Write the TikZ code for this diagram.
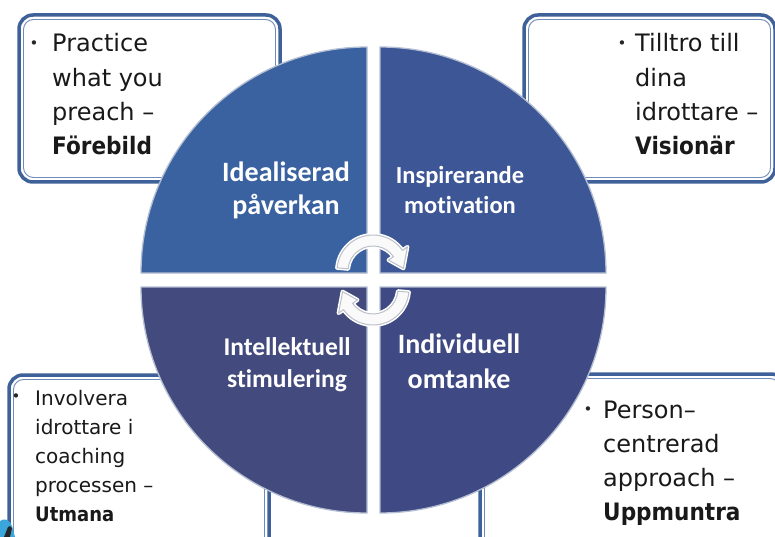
\documentclass[tikz,border=0pt]{standalone}
\usepackage{fontspec}
\setmainfont{DejaVu Sans}
\newfontfamily\labelfont[Ligatures={NoCommon}]{Carlito}
\definecolor{qTL}{HTML}{3A62A0}
\definecolor{qTR}{HTML}{3D5696}
\definecolor{qBL}{HTML}{434A7D}
\definecolor{qBR}{HTML}{3F4A84}
\definecolor{boxedge}{HTML}{3F619A}
\definecolor{boxinner}{HTML}{6F8BB8}
\definecolor{qedge}{HTML}{B4BED2}
\definecolor{arrowedge}{HTML}{BCC0CA}
\definecolor{swooshc}{HTML}{3AA6DC}
\newcommand{\bterm}[1]{\scalebox{0.9}[1]{\textbf{#1}}}
\tikzset{
  quad/.style={draw=qedge, line width=1.3pt},
  boxouter/.style={draw=boxedge, line width=3.5pt, fill=white, rounded corners=14pt},
  boxline/.style={draw=boxinner, line width=0.9pt, rounded corners=10pt},
  btext/.style={font=\fontsize{24}{34.3}\selectfont, text=black!90, inner sep=0pt, anchor=base west},
  bsmall/.style={font=\fontsize{20}{29.2}\selectfont, text=black!90, inner sep=0pt, anchor=base west},
  bullet/.style={font=\fontsize{15}{15}\selectfont, text=black!85, inner sep=0pt, anchor=center},
  qlabel/.style={text=white, inner sep=0pt, anchor=base},
  arrowglow/.style={draw=white, line width=4pt, line join=round},
  arrowbody/.style={fill=white!96!gray, draw=arrowedge, line width=1pt, line join=round},
}
\newcommand{\cyclearrowpath}{(175:36) arc[start angle=175, end angle=35, radius=36] -- (35:42) -- (5:30.5) -- (35:19) -- (35:25) arc[start angle=35, end angle=175, radius=25] -- cycle}
\begin{document}
\begin{tikzpicture}[x=1pt,y=1pt]
\useasboundingbox (0,0) rectangle (775,-537);
\clip (0,0) rectangle (775,-537);
\fill[white] (0,0) rectangle (775,-537);

% text boxes (behind the circle)
\draw[boxouter] (19,-15) rectangle (280,-182);
\draw[boxline] (23.5,-19.5) rectangle (275.5,-177.5);
\draw[boxouter] (524,-15) rectangle (775,-182);
\draw[boxline] (528.5,-19.5) rectangle (770.5,-177.5);
\draw[boxouter] (9,-375) rectangle (269,-570);
\draw[boxline] (13.5,-379.5) rectangle (264.5,-565);
\draw[boxouter] (480,-374) rectangle (785,-570);
\draw[boxline] (484.5,-378.5) rectangle (780,-565);

% quadrants
\fill[qTL] (367,-273) -- (141,-273) arc[start angle=180, end angle=90, radius=226] -- cycle;
\draw[quad] (367,-273) -- (141,-273) arc[start angle=180, end angle=90, radius=226] -- cycle;
\fill[qTR] (380,-273) -- (380,-47) arc[start angle=90, end angle=0, radius=226] -- cycle;
\draw[quad] (380,-273) -- (380,-47) arc[start angle=90, end angle=0, radius=226] -- cycle;
\fill[qBL] (367,-287) -- (141,-287) arc[start angle=180, end angle=270, radius=226] -- cycle;
\draw[quad] (367,-287) -- (141,-287) arc[start angle=180, end angle=270, radius=226] -- cycle;
\fill[qBR] (380,-287) -- (606,-287) arc[start angle=0, end angle=-90, radius=226] -- cycle;
\draw[quad] (380,-287) -- (606,-287) arc[start angle=0, end angle=-90, radius=226] -- cycle;

% quadrant labels
\node[qlabel, font=\labelfont\bfseries\fontsize{28}{33}\selectfont] (lTL) at (286,-182)
  {\begin{tabular}[t]{@{}c@{}}Idealiserad\\påverkan\end{tabular}};
\node[qlabel, font=\labelfont\bfseries\fontsize{24.5}{29}\selectfont] (lTR) at (460,-184)
  {\begin{tabular}[t]{@{}c@{}}Inspirerande\\motivation\end{tabular}};
\node[qlabel, font=\labelfont\bfseries\fontsize{25.5}{32}\selectfont] (lBL) at (287,-355)
  {\begin{tabular}[t]{@{}c@{}}Intellektuell\\stimulering\end{tabular}};
\node[qlabel, font=\labelfont\bfseries\fontsize{28}{35}\selectfont] (lBR) at (459,-353)
  {\begin{tabular}[t]{@{}c@{}}Individuell\\omtanke\end{tabular}};

% cycle arrows
\begin{scope}[shift={(373,-271)}]
  \draw[arrowglow] \cyclearrowpath;
  \draw[arrowbody] \cyclearrowpath;
\end{scope}
\begin{scope}[shift={(373,-289)}, rotate=180]
  \draw[arrowglow] \cyclearrowpath;
  \draw[arrowbody] \cyclearrowpath;
\end{scope}

% box texts
\node[bullet] (b1) at (34,-45) {•};
\node[btext] (t1) at (52,-52)
  {\begin{tabular}[t]{@{}l@{}}Practice\\what you\\preach –\\\bterm{Förebild}\end{tabular}};
\node[bullet] (b2) at (622,-45) {•};
\node[btext] (t2) at (635,-52)
  {\begin{tabular}[t]{@{}l@{}}Tilltro till\\dina\\idrottare –\\\bterm{Visionär}\end{tabular}};
\node[bullet] (b3) at (16,-398) {•};
\node[bsmall] (t3) at (35,-405)
  {\begin{tabular}[t]{@{}l@{}}Involvera\\idrottare i\\coaching\\processen –\\\bterm{Utmana}\end{tabular}};
\node[bullet] (b4) at (588,-411) {•};
\node[btext] (t4) at (603,-418)
  {\begin{tabular}[t]{@{}l@{}}Person–\\centrerad\\approach –\\\bterm{Uppmuntra}\end{tabular}};

% corner swoosh
\fill[swooshc] (0,-537) -- (0,-521) .. controls (4,-518) and (9,-519) .. (12,-526) -- (15,-537) -- cycle;
\fill[black!85] (4,-537) -- (8,-527) .. controls (9,-525) and (11,-526) .. (12,-528) -- (10,-537) -- cycle;
\end{tikzpicture}
\end{document}
